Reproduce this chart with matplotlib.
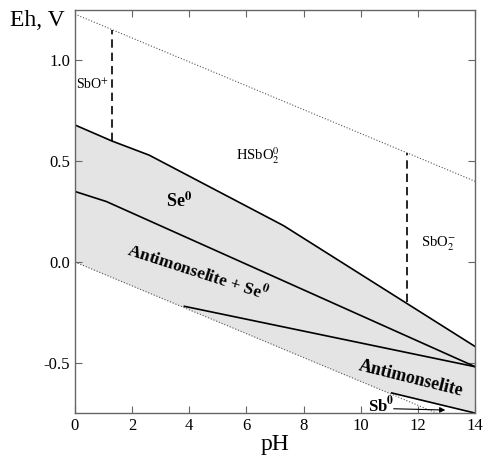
import numpy as np
import matplotlib.pyplot as plt

plt.rcParams['font.family'] = ['Liberation Serif', 'DejaVu Serif']
plt.rcParams['mathtext.fontset'] = 'stix'

# boundaries (pH, Eh in V)
ph_upper = [0, 1.3, 2.6, 7.3, 14]
eh_upper = [0.68, 0.60, 0.53, 0.18, -0.42]
ph_mid = [0, 1.1, 14]
eh_mid = [0.35, 0.30, -0.52]
ph_low = [3.83, 14]
eh_low = [-0.22, -0.52]
ph_sb = [11.08, 14]
eh_sb = [-0.65, -0.75]
ph_water = [0, 14]
eh_water_top = [1.23, 0.40]
eh_water_bot = [0.0, -0.83]
ph_dash1 = [1.3, 1.3]
eh_dash1 = [0.60, 1.15]
ph_dash2 = [11.6, 11.6]
eh_dash2 = [-0.20, 0.54]

fig = plt.figure(figsize=(4.83, 4.57), dpi=100)
ax = fig.add_axes([0.155, 0.096, 0.829, 0.882])

# shaded stability field of solids
ph_grid = np.linspace(0, 14, 400)
top = np.interp(ph_grid, ph_upper, eh_upper)
bot = np.interp(ph_grid, ph_water, eh_water_bot)
sb = np.interp(ph_grid, ph_sb, eh_sb)
bot = np.where(ph_grid >= ph_sb[0], np.maximum(bot, sb), bot)
ax.fill_between(ph_grid, bot, top, color='#e4e4e4', lw=0)

ax.plot(ph_water, eh_water_top, ':', color='#555555', lw=0.8)
ax.plot(ph_water, eh_water_bot, ':', color='#555555', lw=0.8)
ax.plot(ph_upper, eh_upper, 'k-', lw=1.2)
ax.plot(ph_mid, eh_mid, 'k-', lw=1.2)
ax.plot(ph_low, eh_low, 'k-', lw=1.2)
ax.plot(ph_sb, eh_sb, 'k-', lw=1.2)
ax.plot(ph_dash1, eh_dash1, 'k--', lw=1.2, dashes=(5, 3))
ax.plot(ph_dash2, eh_dash2, 'k--', lw=1.2, dashes=(5, 3))

ax.text(0.05, 0.88, 'SbO$^{+}$', fontsize=10, va='center')
ax.text(6.4, 0.53, 'HSbO$_2^0$', fontsize=10.5, ha='center', va='center')
ax.text(12.7, 0.09, 'SbO$_2^{-}$', fontsize=10.5, ha='center', va='center')
ax.text(3.66, 0.30, 'Se$^{\\mathbf{0}}$', fontsize=13, fontweight='bold', ha='center', va='center')
ax.text(4.29, -0.05, 'Antimonselite + Se$^{\\mathbf{0}}$', fontsize=12.5, fontweight='bold',
        ha='center', va='center', rotation=-18)
ax.text(11.75, -0.58, 'Antimonselite', fontsize=13, fontweight='bold',
        ha='center', va='center', rotation=-14)
ax.text(10.7, -0.71, 'Sb$^{\\mathbf{0}}$', fontsize=12, fontweight='bold', ha='center', va='center')
ax.annotate('', xy=(13.05, -0.735), xytext=(11.05, -0.728),
            arrowprops=dict(arrowstyle='-|>', color='k', lw=0.8, mutation_scale=8))

ax.set_xlim(0, 14)
ax.set_ylim(-0.75, 1.25)
ax.set_xticks(range(0, 15, 2))
ax.set_yticks([-0.5, 0.0, 0.5, 1.0])
ax.set_yticklabels(['-0.5', '0.0', '0.5', '1.0'])
ax.tick_params(direction='in', length=5, width=0.8, color='#666666', labelsize=12,
               top=True, right=True)
for s in ax.spines.values():
    s.set_color('#666666')
    s.set_linewidth(1.0)

ax.set_xlabel('pH', fontsize=17, labelpad=0)
fig.text(0.02, 0.955, 'Eh, V', fontsize=17, va='center')

fig.savefig('out.png', dpi=100)
